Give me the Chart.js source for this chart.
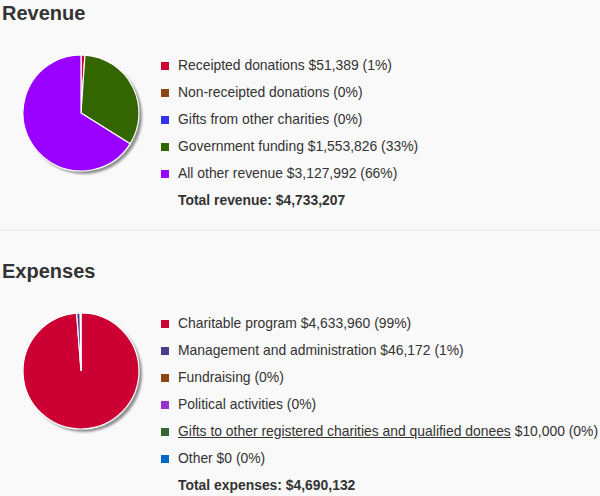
<!DOCTYPE html>
<html>
<head>
<meta charset="utf-8">
<script src="https://cdn.jsdelivr.net/npm/chart.js@4"></script>
<style>
    body { margin: 0; background: #f9f9f9; font-family: Arial, "Liberation Sans", sans-serif; color: #333; }
    #wrap { position: relative; width: 600px; height: 496px; overflow: hidden; }
    h2 { position: absolute; left: 2px; margin: 0; font-size: 20px; font-weight: bold; color: #333; line-height: 24px; }
    .pie { position: absolute; left: 16px; width: 130px; height: 130px; }
    .legend { position: absolute; left: 161px; margin: 0; padding: 0; list-style: none; font-size: 13.9px; }
    .legend li { height: 27px; line-height: 16px; white-space: nowrap; }
    .legend .sw { display: inline-block; width: 8px; height: 8px; margin-right: 9px; vertical-align: 0px; }
    .legend .total { font-weight: bold; padding-left: 17px; }
    .legend a { color: #333; text-decoration: underline; }
    hr { position: absolute; left: 0; top: 230px; width: 600px; margin: 0; border: 0; border-top: 1px solid #ececec; }
</style>
</head>
<body>
<div id="wrap">
    <h2 style="top:1px">Revenue</h2>
    <canvas id="revenue-chart" class="pie" style="top:48px"></canvas>
    <ul id="revenue-legend" class="legend" style="top:57px"></ul>
    <hr>
    <h2 style="top:259px">Expenses</h2>
    <canvas id="expenses-chart" class="pie" style="top:306px"></canvas>
    <ul id="expenses-legend" class="legend" style="top:315px"></ul>
</div>
<script>
var revenueLabels = ['Receipted donations', 'Non-receipted donations', 'Gifts from other charities', 'Government funding', 'All other revenue'];
var revenueValues = [51389, 0, 0, 1553826, 3127992];
var revenueShowAmount = [true, false, false, true, true];
var revenueColors = ['#cc0033', '#8b4513', '#3333ee', '#336600', '#9900ff'];
var revenueTotal = 4733207;

var expenseLabels = ['Charitable program', 'Management and administration', 'Fundraising', 'Political activities', 'Gifts to other registered charities and qualified donees', 'Other'];
var expenseValues = [4633960, 46172, 0, 0, 10000, 0];
var expenseShowAmount = [true, true, false, false, true, true];
var expenseColors = ['#cc0033', '#483d8b', '#8b4513', '#9932cc', '#336633', '#0066cc'];
var expenseTotal = 4690132;

function money(v) {
    return '$' + v.toLocaleString('en-US');
}

function pct(v, total) {
    return Math.round(v / total * 100) + '%';
}

// grey drop shadow under the whole pie
var pieShadow = {
    id: 'pieShadow',
    beforeDatasetsDraw: function (chart) {
        var arc = chart.getDatasetMeta(0).data[0];
        if (!arc) return;
        var ctx = chart.ctx;
        ctx.save();
        ctx.fillStyle = 'rgba(110,110,110,0.75)';
        ctx.filter = 'blur(1px)';
        ctx.beginPath();
        ctx.arc(arc.x + 3, arc.y + 3, arc.outerRadius, 0, Math.PI * 2);
        ctx.fill();
        ctx.restore();
    }
};

function makePie(id, labels, values, colors) {
    var ctx = document.getElementById(id).getContext('2d');
    return new Chart(ctx, {
        type: 'pie',
        data: {
            labels: labels,
            datasets: [{
                data: values,
                backgroundColor: colors,
                borderColor: '#ffffff',
                borderWidth: 1.2
            }]
        },
        options: {
            responsive: false,
            animation: false,
            radius: 58,
            layout: { padding: 0 },
            plugins: {
                legend: { display: false },
                tooltip: { enabled: false }
            }
        },
        plugins: [pieShadow]
    });
}

function makeLegend(id, labels, values, show, colors, total, totalLabel, linkIndex) {
    var ul = document.getElementById(id);
    labels.forEach(function (label, i) {
        var li = document.createElement('li');
        var sw = document.createElement('span');
        sw.className = 'sw';
        sw.style.background = colors[i];
        li.appendChild(sw);
        var name = i === linkIndex ? document.createElement('a') : document.createElement('span');
        name.textContent = label;
        if (i === linkIndex) name.href = '#';
        li.appendChild(name);
        var rest = show[i] ? ' ' + money(values[i]) + ' (' + pct(values[i], total) + ')' : ' (' + pct(values[i], total) + ')';
        li.appendChild(document.createTextNode(rest));
        ul.appendChild(li);
    });
    var t = document.createElement('li');
    t.className = 'total';
    t.textContent = totalLabel + ' ' + money(total);
    ul.appendChild(t);
}

makePie('revenue-chart', revenueLabels, revenueValues, revenueColors);
makePie('expenses-chart', expenseLabels, expenseValues, expenseColors);
makeLegend('revenue-legend', revenueLabels, revenueValues, revenueShowAmount, revenueColors, revenueTotal, 'Total revenue:', -1);
makeLegend('expenses-legend', expenseLabels, expenseValues, expenseShowAmount, expenseColors, expenseTotal, 'Total expenses:', 4);
</script>
</body>
</html>
